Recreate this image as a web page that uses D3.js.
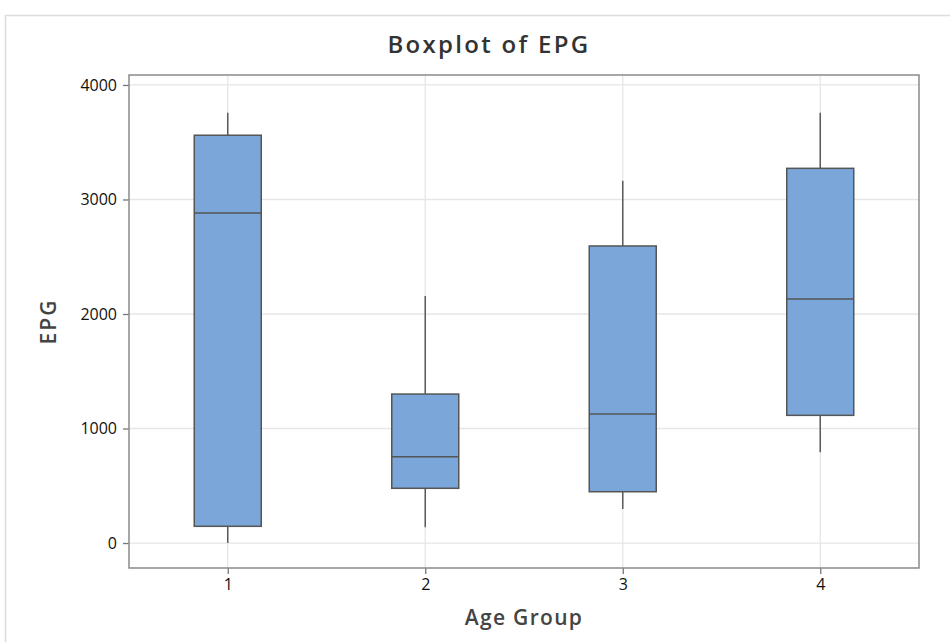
<!DOCTYPE html>
<html>
<head>
<meta charset="utf-8">
<script src="https://cdn.jsdelivr.net/npm/d3@7"></script>
<style>
  body { margin: 0; background: #fff; }
  svg { display: block; }
</style>
</head>
<body>
<svg width="950" height="642"></svg>
<script>
// EPG boxplot by age group
const groups = ["1", "2", "3", "4"];
const whiskerLow = [0, 137, 297, 792];
const q1 = [146, 478, 448, 1115];
const median = [2882, 754, 1127, 2131];
const q3 = [3561, 1301, 2594, 3272];
const whiskerHigh = [3758, 2157, 3164, 3758];
const yTicks = [0, 1000, 2000, 3000, 4000];

const svg = d3.select("svg");
const width = +svg.attr("width");
const height = +svg.attr("height");

const margin = {top: 75, right: 31, bottom: 74, left: 129};
const plotW = width - margin.left - margin.right;
const plotH = height - margin.top - margin.bottom;
const boxWidth = 67;

// outer frame
svg.append("path")
    .attr("d", `M5.5,${height} V15.5 H${width}`)
    .attr("fill", "none")
    .attr("stroke", "#dcdcdc")
    .attr("stroke-width", 1.5);

const xScale = d3.scalePoint()
    .domain(groups)
    .range([0, plotW])
    .padding(0.5);

const yScale = d3.scaleLinear()
    .domain([-218, 4087])
    .range([plotH, 0]);

const g = svg.append("g")
    .attr("transform", `translate(${margin.left},${margin.top})`);

// grid
g.selectAll(".hgrid").data(yTicks).enter().append("line")
    .attr("x1", 0).attr("x2", plotW)
    .attr("y1", d => yScale(d)).attr("y2", d => yScale(d))
    .attr("stroke", "#e6e6e6")
    .attr("stroke-width", 1.3);

g.selectAll(".vgrid").data(groups).enter().append("line")
    .attr("x1", d => xScale(d)).attr("x2", d => xScale(d))
    .attr("y1", 0).attr("y2", plotH)
    .attr("stroke", "#e6e6e6")
    .attr("stroke-width", 1.3);

// axes
const yAxis = d3.axisLeft(yScale)
    .tickValues(yTicks)
    .tickFormat(d3.format("d"))
    .tickSize(6)
    .tickPadding(6);

const xAxis = d3.axisBottom(xScale)
    .tickSize(6)
    .tickPadding(5);

const gy = g.append("g").call(yAxis);
const gx = g.append("g").attr("transform", `translate(0,${plotH})`).call(xAxis);

[gy, gx].forEach(ax => {
    ax.select(".domain").remove();
    ax.selectAll("line").attr("stroke", "#777").attr("stroke-width", 1.3);
    ax.selectAll("text")
        .attr("fill", "#111")
        .style("font-family", "'Open Sans', sans-serif")
        .style("font-weight", "500")
        .style("font-size", "16px");
});

// plot border
g.append("rect")
    .attr("x", 0).attr("y", 0)
    .attr("width", plotW).attr("height", plotH)
    .attr("fill", "none")
    .attr("stroke", "#8a8a8a")
    .attr("stroke-width", 1.5);

const data = groups.map((k, i) => ({
    key: k, lo: whiskerLow[i], q1: q1[i], med: median[i], q3: q3[i], hi: whiskerHigh[i]
}));

const boxes = g.selectAll(".box").data(data).enter().append("g");

boxes.append("line")
    .attr("x1", d => xScale(d.key)).attr("x2", d => xScale(d.key))
    .attr("y1", d => yScale(d.hi)).attr("y2", d => yScale(d.q3))
    .attr("stroke", "#5a5a5a").attr("stroke-width", 1.5);

boxes.append("line")
    .attr("x1", d => xScale(d.key)).attr("x2", d => xScale(d.key))
    .attr("y1", d => yScale(d.q1)).attr("y2", d => yScale(d.lo))
    .attr("stroke", "#5a5a5a").attr("stroke-width", 1.5);

boxes.append("rect")
    .attr("x", d => xScale(d.key) - boxWidth / 2)
    .attr("y", d => yScale(d.q3))
    .attr("width", boxWidth)
    .attr("height", d => yScale(d.q1) - yScale(d.q3))
    .attr("fill", "#7ba6d9")
    .attr("stroke", "#555")
    .attr("stroke-width", 1.5);

boxes.append("line")
    .attr("x1", d => xScale(d.key) - boxWidth / 2)
    .attr("x2", d => xScale(d.key) + boxWidth / 2)
    .attr("y1", d => yScale(d.med)).attr("y2", d => yScale(d.med))
    .attr("stroke", "#555").attr("stroke-width", 1.5);

// titles
svg.append("text")
    .attr("x", 489)
    .attr("y", 53)
    .attr("text-anchor", "middle")
    .attr("fill", "#333")
    .style("font-family", "'Open Sans', sans-serif")
    .style("font-weight", "600")
    .style("font-size", "24px")
    .style("letter-spacing", "2.3px")
    .text("Boxplot of EPG");

svg.append("text")
    .attr("x", 524)
    .attr("y", 625)
    .attr("text-anchor", "middle")
    .attr("fill", "#444")
    .style("font-family", "'Open Sans', sans-serif")
    .style("font-weight", "600")
    .style("font-size", "21px")
    .style("letter-spacing", "1.3px")
    .text("Age Group");

svg.append("text")
    .attr("transform", `translate(56,${margin.top + plotH / 2}) rotate(-90)`)
    .attr("text-anchor", "middle")
    .attr("fill", "#444")
    .style("font-family", "'Open Sans', sans-serif")
    .style("font-weight", "600")
    .style("font-size", "21px")
    .style("letter-spacing", "2px")
    .text("EPG");
</script>
</body>
</html>
